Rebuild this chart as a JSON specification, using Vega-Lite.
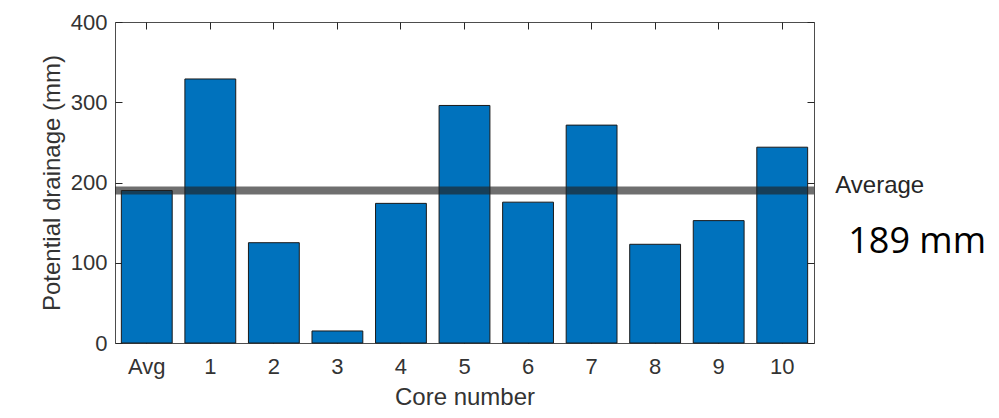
{
  "$schema": "https://vega.github.io/schema/vega-lite/v6.json",
  "width": 699,
  "height": 321,
  "autosize": {"type": "none"},
  "padding": {"left": 115, "top": 22, "right": 185, "bottom": 75},
  "background": "white",
  "config": {
    "view": {"stroke": "#4d4d4d", "strokeWidth": 1},
    "font": "Liberation Sans",
    "axis": {
      "labelFont": "Liberation Sans",
      "labelFontSize": 22,
      "labelColor": "#333333",
      "titleFont": "Liberation Sans",
      "titleFontSize": 24,
      "titleFontWeight": "normal",
      "titleColor": "#333333",
      "tickColor": "#262626",
      "tickWidth": 1,
      "domain": false,
      "grid": false,
      "zindex": 1
    }
  },
  "data": {
    "values": [
      {"core": "Avg", "drainage": 190},
      {"core": "1", "drainage": 329},
      {"core": "2", "drainage": 125},
      {"core": "3", "drainage": 15},
      {"core": "4", "drainage": 174},
      {"core": "5", "drainage": 296},
      {"core": "6", "drainage": 175.5},
      {"core": "7", "drainage": 271.5},
      {"core": "8", "drainage": 123},
      {"core": "9", "drainage": 152.5},
      {"core": "10", "drainage": 244}
    ]
  },
  "layer": [
    {
      "mark": {"type": "bar", "color": "#0072BD", "stroke": "#1a1a1a", "strokeWidth": 1},
      "encoding": {
        "x": {
          "field": "core", "type": "nominal", "sort": null,
          "scale": {"paddingInner": 0.2, "paddingOuter": 0.1},
          "axis": {"title": "Core number", "labelAngle": 0, "tickSize": -7, "labelPadding": 20, "titlePadding": 8}
        },
        "y": {
          "field": "drainage", "type": "quantitative",
          "scale": {"domain": [0, 400], "nice": false},
          "axis": {"title": "Potential drainage (mm)", "values": [0, 100, 200, 300, 400], "tickSize": -7, "labelPadding": 15, "titlePadding": 6}
        }
      }
    },
    {
      "mark": {"type": "bar", "opacity": 0},
      "encoding": {
        "x": {
          "field": "core", "type": "nominal", "sort": null,
          "axis": {"orient": "top", "labels": false, "title": null, "tickSize": -7}
        },
        "y": {
          "field": "drainage", "type": "quantitative",
          "axis": {"orient": "right", "labels": false, "title": null, "values": [0, 100, 200, 300, 400], "tickSize": -7}
        }
      }
    },
    {
      "data": {"values": [{"avg": 190, "label": "Average", "note": "189 mm"}]},
      "layer": [
        {
          "mark": {"type": "rule", "color": "#222222", "opacity": 0.65, "strokeWidth": 8},
          "encoding": {"y": {"field": "avg", "type": "quantitative", "axis": null}}
        },
        {
          "mark": {"type": "text", "align": "left", "baseline": "alphabetic", "dx": 53, "dy": 2, "font": "Liberation Sans", "fontSize": 24, "color": "#262626"},
          "encoding": {
            "x": {"datum": "10", "type": "nominal", "axis": null},
            "y": {"field": "avg", "type": "quantitative", "axis": null},
            "text": {"field": "label"}
          }
        },
        {
          "mark": {"type": "text", "align": "left", "baseline": "alphabetic", "dx": 66, "dy": 62, "font": "Open Sans", "fontSize": 36, "color": "#000000"},
          "encoding": {
            "x": {"datum": "10", "type": "nominal", "axis": null},
            "y": {"field": "avg", "type": "quantitative", "axis": null},
            "text": {"field": "note"}
          }
        }
      ]
    }
  ],
  "resolve": {"axis": {"x": "independent", "y": "independent"}}
}
